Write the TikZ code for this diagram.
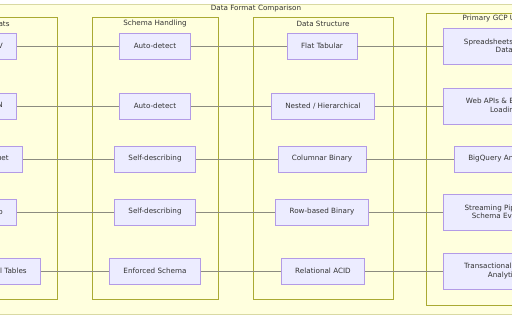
\documentclass[tikz,border=0pt]{standalone}
\usepackage{fontspec}
\setmainfont{DejaVu Sans}
\usepackage{tikz}
\usetikzlibrary{positioning}
\definecolor{MMyellow}{HTML}{FFFFDE}
\definecolor{MMolive}{HTML}{AAAA33}
\definecolor{MMnode}{HTML}{ECECFF}
\definecolor{MMpurple}{HTML}{9370DB}
\definecolor{MMtext}{HTML}{333333}
\definecolor{MMedge}{HTML}{8C8C80}

\tikzset{
  fmtbox/.style={draw=MMpurple!70, fill=MMnode, line width=0.6pt, text=MMtext,
    inner xsep=14pt, minimum height=26pt, align=center},
  tallbox/.style={fmtbox, minimum height=36pt, minimum width=122pt},
  groupbox/.style={draw=MMolive, fill=MMyellow, line width=0.6pt},
  grouptitle/.style={text=MMtext},
  link/.style={draw=MMedge, line width=0.7pt}
}

\begin{document}
\begin{tikzpicture}[x=1pt, y=-1pt, font=\fontsize{7.2}{8.6}\selectfont]
    \useasboundingbox (0,0) rectangle (512,320);
    \clip (0,0) rectangle (512,320);
    \fill[white] (0,0) rectangle (512,320);
    % Outer group
    \draw[groupbox, draw=MMolive!45] (-120,4) rectangle (640,314);
    \node[grouptitle] (title) at (256,9) {Data Format Comparison};
    % Groups
    \draw[groupbox] (-80,17) rectangle (57,299);
    \node[grouptitle] (fmttitle) at (-5,24) {Formats};
    \draw[groupbox] (92,17) rectangle (218,299);
    \node[grouptitle] (schematitle) at (155,24) {Schema Handling};
    \draw[groupbox] (253,17) rectangle (393,299);
    \node[grouptitle] (structtitle) at (323,24) {Data Structure};
    \draw[groupbox] (426,13) rectangle (590,305);
    \node[grouptitle] (usetitle) at (503,18.5) {Primary GCP Use Case};
    % Formats
    \node[fmtbox, anchor=east] (csv) at (17,46) {CSV};
    \node[fmtbox, anchor=east] (json) at (17,106) {JSON};
    \node[fmtbox, anchor=east] (parquet) at (23,159) {Parquet};
    \node[fmtbox, anchor=east] (avro) at (17,212) {Avro};
    \node[fmtbox, anchor=east] (reltab) at (41,271) {Relational Tables};
    % Schema handling
    \node[fmtbox] (auto1) at (155,46) {Auto-detect};
    \node[fmtbox] (auto2) at (155,106) {Auto-detect};
    \node[fmtbox] (self1) at (155,159) {Self-describing};
    \node[fmtbox] (self2) at (155,212) {Self-describing};
    \node[fmtbox] (enforced) at (155,271) {Enforced Schema};
    % Data structure
    \node[fmtbox] (flat) at (322,46) {Flat Tabular};
    \node[fmtbox] (nested) at (323,106) {Nested / Hierarchical};
    \node[fmtbox] (columnar) at (322,159) {Columnar Binary};
    \node[fmtbox] (rowbased) at (322,212) {Row-based Binary};
    \node[fmtbox] (acid) at (323,271) {Relational ACID};
    % Use cases
    \node[tallbox, anchor=west] (sheets) at (443,46) {Spreadsheets / Simple\\Data};
    \node[tallbox, anchor=west] (webapi) at (443,106) {Web APIs \& BigQuery\\Loading};
    \node[fmtbox, anchor=west] (bqana) at (454,159) {BigQuery Analytics};
    \node[tallbox, anchor=west] (stream) at (443,212) {Streaming Pipelines \&\\Schema Evolution};
    \node[tallbox, anchor=west] (trans) at (443,271) {Transactional Systems\\Analytics};
    % Links
    \foreach \a/\b in {csv/auto1, auto1/flat, flat/sheets,
                       json/auto2, auto2/nested, nested/webapi,
                       parquet/self1, self1/columnar, columnar/bqana,
                       avro/self2, self2/rowbased, rowbased/stream,
                       reltab/enforced, enforced/acid, acid/trans}{
      \draw[link] (\a) -- (\b);
    }
  \end{tikzpicture}
\end{document}
